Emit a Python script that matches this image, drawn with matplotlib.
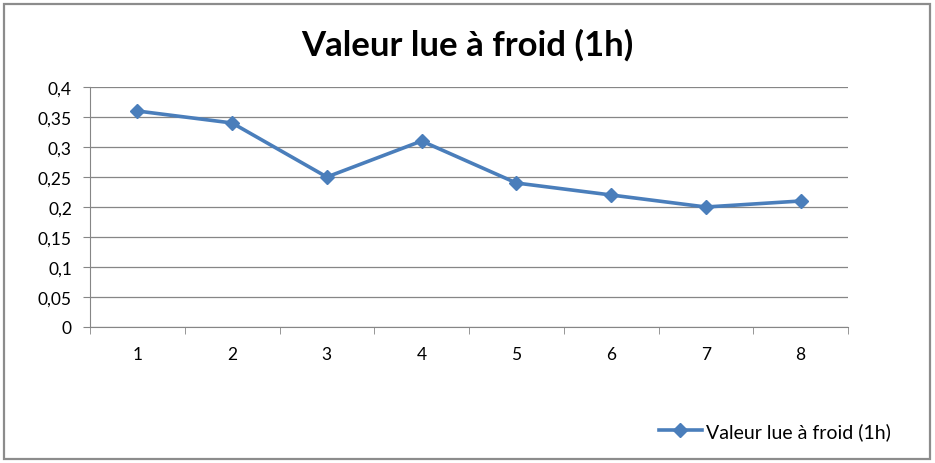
import matplotlib.pyplot as plt
from matplotlib.patches import Rectangle
from matplotlib.lines import Line2D

categories = [1, 2, 3, 4, 5, 6, 7, 8]
values = [0.36, 0.34, 0.25, 0.31, 0.24, 0.22, 0.20, 0.21]
yticks = [0, 0.05, 0.1, 0.15, 0.2, 0.25, 0.3, 0.35, 0.4]
title = "Valeur lue à froid (1h)"
series_name = "Valeur lue à froid (1h)"

plt.rcParams['font.family'] = ['Lato', 'DejaVu Sans']

fig = plt.figure(figsize=(9.35, 4.64), dpi=100)
W, H = 935, 464

# outer frame
fig.patches.append(Rectangle((4 / W, 4 / H), 926 / W, 455 / H, transform=fig.transFigure,
                             fill=False, edgecolor='#8c8c8c', linewidth=1.6))

ax = fig.add_axes([90 / W, 1 - 328 / H, 758 / W, 240 / H])
line_color = '#4a7ebb'
ax.plot(categories, values, color=line_color, linewidth=2.6, marker='D',
        markersize=7.5, markerfacecolor=line_color, markeredgecolor=line_color,
        zorder=3)

ax.set_xlim(0.5, 8.5)
ax.set_ylim(0, 0.4)
ax.set_yticks(yticks)
ax.set_yticklabels([('%g' % v).replace('.', ',') for v in yticks], fontsize=12.5)
ax.set_xticks(categories)
ax.set_xticklabels([str(c) for c in categories], fontsize=12.5)
ax.tick_params(axis='x', length=0, pad=14)
ax.set_xticks([c + 0.5 for c in [0] + categories], minor=True)
ax.tick_params(axis='x', which='minor', length=5, color='#868686', direction='out')
ax.tick_params(axis='y', length=5, color='#868686', direction='out', pad=8)
ax.grid(axis='y', color='#868686', linewidth=0.9)
ax.set_axisbelow(True)
for s in ['top', 'right']:
    ax.spines[s].set_visible(False)
ax.spines['left'].set_color('#868686')
ax.spines['bottom'].set_color('#868686')

fig.text(467 / W, 1 - 45 / H, title, ha='center', va='center',
         fontsize=25, fontweight='bold')

handle = Line2D([], [], color=line_color, linewidth=2.6, marker='D',
                markersize=7.5, markerfacecolor=line_color)
fig.legend([handle], [series_name], loc='center', bbox_to_anchor=(775 / W, 1 - 432 / H),
           frameon=False, fontsize=14, handlelength=2.2, handletextpad=0.25)

fig.savefig('out.png', dpi=100)
